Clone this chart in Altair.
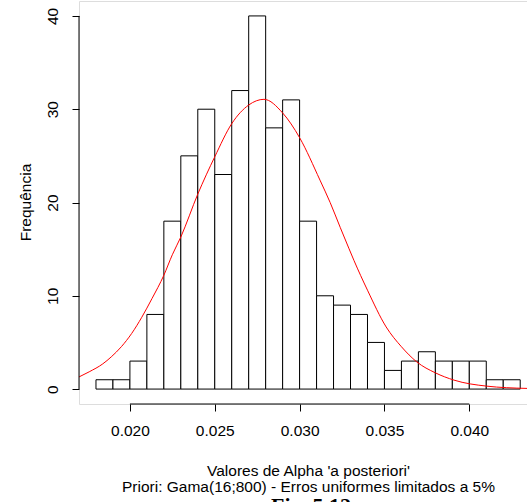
import altair as alt
import pandas as pd

# Histogram of posterior alpha samples (bin width 0.001)
bin_left = [0.018, 0.019, 0.020, 0.021, 0.022, 0.023, 0.024, 0.025, 0.026,
            0.027, 0.028, 0.029, 0.030, 0.031, 0.032, 0.033, 0.034, 0.035,
            0.036, 0.037, 0.038, 0.039, 0.040, 0.041, 0.042]
bin_right = [0.019, 0.020, 0.021, 0.022, 0.023, 0.024, 0.025, 0.026, 0.027,
             0.028, 0.029, 0.030, 0.031, 0.032, 0.033, 0.034, 0.035, 0.036,
             0.037, 0.038, 0.039, 0.040, 0.041, 0.042, 0.043]
counts = [1, 1, 3, 8, 18, 25, 30, 23, 32, 40, 28, 31, 18, 10, 9, 8, 5, 2,
          3, 4, 3, 3, 3, 1, 1]

# Fitted density curve, scaled to frequency
curve_x = [0.0170, 0.0176, 0.0184, 0.0189, 0.0195, 0.0201, 0.0207, 0.0213,
           0.0220, 0.0225, 0.0230, 0.0240, 0.0250, 0.0260, 0.0270, 0.0279,
           0.0290, 0.0300, 0.0312, 0.0318, 0.0324, 0.0329, 0.0332, 0.0340,
           0.0351, 0.0360, 0.0369, 0.0380, 0.0391, 0.0410, 0.0434]
curve_y = [1.3, 1.85, 2.7, 3.45, 4.55, 5.95, 7.7, 9.7, 12.2, 14.4, 16.3,
           20.9, 24.9, 28.45, 30.45, 31.06, 29.6, 26.95, 22.4, 20.0, 17.3,
           15.1, 13.8, 10.6, 6.66, 4.54, 2.92, 1.74, 0.96, 0.32, 0.07]

x_ticks = [0.020, 0.025, 0.030, 0.035, 0.040]
y_ticks = [0, 10, 20, 30, 40]

X_MIN, X_MAX = 0.017, 0.0434
Y_MIN, Y_MAX = -1.6, 41.6
W, H = 448, 403
FONT = "Liberation Sans"
FS = 15.5

hist = pd.DataFrame({"x0": bin_left, "x1": bin_right, "n": counts})
curve = pd.DataFrame({"x": curve_x, "y": curve_y})

xscale = alt.Scale(domain=[X_MIN, X_MAX], nice=False, zero=False)
yscale = alt.Scale(domain=[Y_MIN, Y_MAX], nice=False, zero=False)

x_axis = alt.Axis(
    values=x_ticks, format=".3f", grid=False, domain=False,
    tickSize=7, tickColor="black", tickWidth=1,
    labelFont=FONT, labelFontSize=FS, labelColor="black", labelPadding=12,
    title=["Valores de Alpha 'a posteriori'",
           "Priori: Gama(16;800) - Erros uniformes limitados a 5%"],
    titleFont=FONT, titleFontSize=FS, titleFontWeight="normal",
    titleColor="black", titleLineHeight=15.5,
    titleAnchor="start", titleAlign="center", titleBaseline="alphabetic",
    titleX=229, titleY=71.5,
)

y_axis = alt.Axis(
    values=y_ticks, grid=False, domain=False,
    tickSize=7, tickColor="black", tickWidth=1,
    labelFont=FONT, labelFontSize=FS, labelColor="black",
    labelAngle=270, labelAlign="center", labelBaseline="middle",
    labelPadding=19.5,
    title="Frequência", titleFont=FONT, titleFontSize=FS,
    titleFontWeight="normal", titleColor="black",
    titleAngle=270, titleAlign="center", titleBaseline="middle",
    titleX=-54, titleY=201,
)

bars = alt.Chart(hist).mark_rect(
    fill="white", stroke="black", strokeWidth=1
).encode(
    x=alt.X("x0:Q", scale=xscale, axis=x_axis),
    x2="x1:Q",
    y=alt.Y("n:Q", scale=yscale, axis=y_axis),
    y2=alt.datum(0),
)

line = alt.Chart(curve).mark_line(
    color="#ff0000", strokeWidth=1, interpolate="monotone", clip=True
).encode(
    x=alt.X("x:Q", scale=xscale),
    y=alt.Y("y:Q", scale=yscale),
)

# Axis lines spanning only the tick range
axis_lines = pd.DataFrame({
    "x": [X_MIN, x_ticks[0]], "x2": [X_MIN, x_ticks[-1]],
    "y": [y_ticks[0], Y_MIN], "y2": [y_ticks[-1], Y_MIN],
})
rules = alt.Chart(axis_lines).mark_rule(color="black", strokeWidth=1).encode(
    x=alt.X("x:Q", scale=xscale), x2="x2:Q",
    y=alt.Y("y:Q", scale=yscale), y2="y2:Q",
)

caption = alt.Chart(pd.DataFrame({"t": ["Fig. 5.12"]})).mark_text(
    font="Liberation Serif", fontSize=22, fontWeight="bold", color="black",
    align="center", baseline="alphabetic",
).encode(
    text="t:N", x=alt.value(232), y=alt.value(512),
)

chart = alt.layer(bars, line, rules, caption).properties(
    width=W, height=H,
    autosize=alt.AutoSizeParams(type="none"),
    padding={"left": 79, "top": 1, "right": 0, "bottom": 98},
).configure_view(stroke=None).configure(background="white")

chart.save("out.html", embed_options={"renderer": "svg", "actions": False})
